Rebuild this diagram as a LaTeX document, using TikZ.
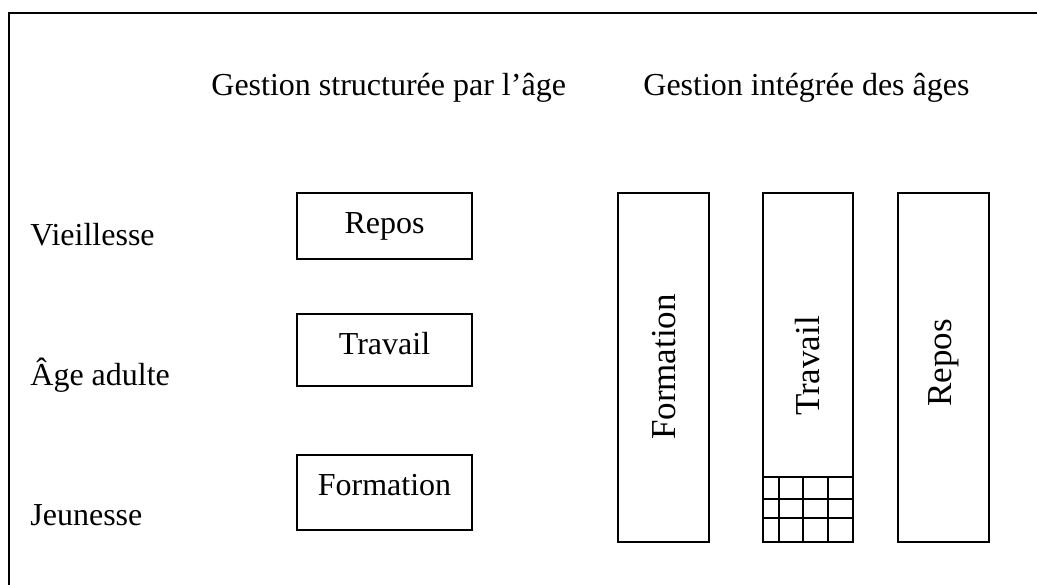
\documentclass[tikz,border=0pt]{standalone}
\usepackage{fontspec}
\setmainfont{Liberation Serif}
\usetikzlibrary{fit}
\begin{document}
\begin{tikzpicture}[x=0.5pt,y=-0.5pt,
  every node/.style={font=\fontsize{16pt}{19pt}\selectfont, inner sep=0pt},
  vlabel/.style={rotate=90, font=\fontsize{17.5pt}{21pt}\selectfont},
  outerframe/.style={line width=1.1pt},
  box/.style={draw, line width=0.7pt, inner sep=0pt},
  gridline/.style={line width=0.7pt}]
  % page area
  \useasboundingbox (0,0) rectangle (1037,584);
  \clip (0,0) rectangle (1037,584);
  \fill[white] (0,0) rectangle (1037,584);
  % outer frame, running past the page on the right and bottom
  \draw[outerframe] (9,13) rectangle (1060,620);

  % column headings
  \node[anchor=base west] (h1) at (211,95) {Gestion structurée par l’âge};
  \node[anchor=base west] (h2) at (643,95) {Gestion intégrée des âges};

  % life stages
  \node[anchor=base west] (old) at (30,245) {Vieillesse};
  \node[anchor=base west] (adult) at (30,385) {Âge adulte};
  \node[anchor=base west] (young) at (30,525) {Jeunesse};

  % age-structured management: stacked boxes
  \coordinate (a1) at (297,193); \coordinate (a2) at (472,259);
  \coordinate (b1) at (297,314); \coordinate (b2) at (472,386);
  \coordinate (c1) at (297,455); \coordinate (c2) at (472,530);
  \node[box, fit=(a1)(a2)] (repL) {};
  \node[box, fit=(b1)(b2)] (travL) {};
  \node[box, fit=(c1)(c2)] (formL) {};
  \node[anchor=base] (repLt) at (384.5,233) {Repos};
  \node[anchor=base] (travLt) at (384.5,354) {Travail};
  \node[anchor=base] (formLt) at (384.5,495) {Formation};

  % integrated management: parallel columns
  \coordinate (d1) at (618,193); \coordinate (d2) at (709,542);
  \coordinate (e1) at (763,193); \coordinate (e2) at (853,542);
  \coordinate (f1) at (898,193); \coordinate (f2) at (989,542);
  \node[box, fit=(d1)(d2)] (formR) {};
  \node[box, fit=(e1)(e2)] (travR) {};
  \node[box, fit=(f1)(f2)] (repR) {};
  \node[vlabel] (formRt) at (664,367) {Formation};
  \node[vlabel] (travRt) at (808,366) {Travail};
  \node[vlabel] (repRt) at (943.5,363) {Repos};

  % grid at the foot of the work column
  \foreach \y in {477,499,518}
    \draw[gridline] (763,\y) -- (853,\y);
  \foreach \x in {779,803,828}
    \draw[gridline] (\x,477) -- (\x,542);
\end{tikzpicture}
\end{document}
